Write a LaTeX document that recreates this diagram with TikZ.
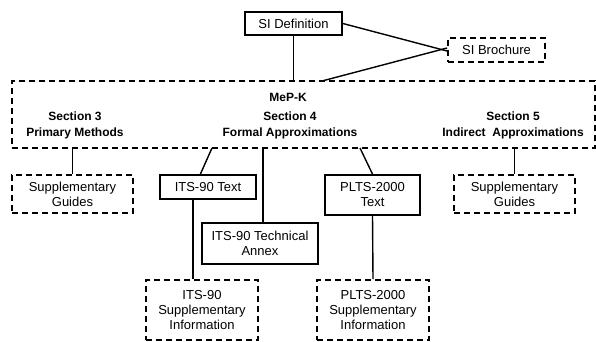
\documentclass[tikz,border=0pt]{standalone}
\usepackage{fontspec}
\setmainfont{Liberation Sans}
\begin{document}
\begin{tikzpicture}[x=1pt,y=-1pt,
  solidbox/.style={draw, line width=1.8pt, inner sep=0pt, align=center,
    font=\fontsize{13}{15}\selectfont},
  dashbox/.style={solidbox, dash pattern=on 6pt off 4pt},
  headtext/.style={align=center, inner sep=0pt,
    font=\fontsize{12}{16}\selectfont\bfseries},
  link/.style={line width=1.4pt}]
\useasboundingbox (0,0) rectangle (596,341);

% document boxes
\node[solidbox, minimum width=97pt, minimum height=23pt] (sidef) at (293.5,23.5) {SI Definition};
\node[dashbox, minimum width=97pt, minimum height=24pt] (sibro) at (496.5,50) {SI Brochure};
\node[dashbox, minimum width=583pt, minimum height=67pt] (mepk) at (303.5,114.5) {};
\node[headtext] (mepktitle) at (288,97) {MeP-K};
\node[headtext] (sec3) at (75,125) {Section 3\\Primary Methods};
\node[headtext] (sec4) at (290,125) {Section 4\\Formal Approximations};
\node[headtext] (sec5) at (513,125) {Section 5\\Indirect\ \ Approximations};

\node[dashbox, minimum width=121pt, minimum height=38pt] (guideL) at (72.5,194) {Supplementary\\Guides};
\node[solidbox, minimum width=96pt, minimum height=24pt] (itstext) at (208,187) {ITS-90 Text};
\node[solidbox, minimum width=116pt, minimum height=41pt] (itsannex) at (260,243.5) {ITS-90 Technical\\Annex};
\node[solidbox, minimum width=95pt, minimum height=40pt] (pltstext) at (372.5,195) {PLTS-2000\\Text};
\node[dashbox, minimum width=121pt, minimum height=38pt] (guideR) at (514.5,194) {Supplementary\\Guides};
\node[dashbox, minimum width=112pt, minimum height=60pt] (itssup) at (202,310) {ITS-90\\Supplementary\\Information};
\node[dashbox, minimum width=112pt, minimum height=60pt] (pltssup) at (373,310) {PLTS-2000\\Supplementary\\Information};

% attachment points on box edges
\coordinate (broIn) at (322,81);
\coordinate (itsOut) at (212,148);
\coordinate (itsIn) at (200,175);
\coordinate (annexOut) at (263,148);
\coordinate (pltsOut) at (360,148);
\coordinate (itsDown) at (193,199);

% connectors
\draw[link] (sidef.south) -- (sidef.south |- mepk.north);
\draw[link] (sidef.east) -- ([yshift=-1pt]sibro.west);
\draw[link] ([yshift=2pt]sibro.west) -- (broIn);
\draw[link] (guideL.north |- mepk.south) -- (guideL.north);
\draw[link] (itsOut) -- (itsIn);
\draw[link] (annexOut) -- (annexOut |- itsannex.north);
\draw[link] (pltsOut) -- (pltstext.north);
\draw[link] (guideR.north |- mepk.south) -- (guideR.north);
\draw[link] (itsDown) -- (itsDown |- itssup.north);
\draw[link] (pltstext.south) -- (pltssup.north);
\end{tikzpicture}
\end{document}
